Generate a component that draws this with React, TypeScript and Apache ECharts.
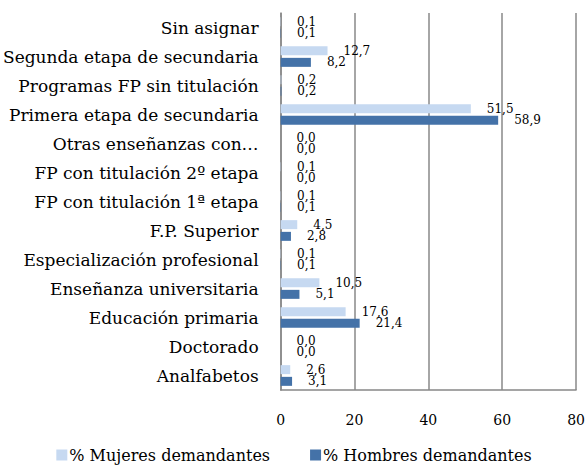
import React, { useEffect, useRef } from "react";
import * as echarts from "echarts";

const categories = [
  "Analfabetos",
  "Doctorado",
  "Educación primaria",
  "Enseñanza universitaria",
  "Especialización profesional",
  "F.P. Superior",
  "FP con titulación 1ª etapa",
  "FP con titulación 2º etapa",
  "Otras enseñanzas con…",
  "Primera etapa de secundaria",
  "Programas FP sin titulación",
  "Segunda etapa de secundaria",
  "Sin asignar",
];
const mujeres = [2.6, 0.0, 17.6, 10.5, 0.1, 4.5, 0.1, 0.1, 0.0, 51.5, 0.2, 12.7, 0.1];
const hombres = [3.1, 0.0, 21.4, 5.1, 0.1, 2.8, 0.1, 0.0, 0.0, 58.9, 0.2, 8.2, 0.1];
const seriesNames = ["% Mujeres demandantes", "% Hombres demandantes"];

const FONT = "DejaVu Serif";

export default function App() {
  const ref = useRef<HTMLDivElement>(null);
  useEffect(() => {
    if (!ref.current) return;
    const chart = echarts.init(ref.current, undefined, { renderer: "svg" });
    const fmt = (p: any) => Number(p.value).toFixed(1).replace(".", ",");
    const lbl = {
      show: true,
      position: "right",
      distance: 16,
      formatter: fmt,
      fontFamily: FONT,
      fontSize: 12,
      color: "#000",
    };
    chart.setOption({
      animation: false,
      textStyle: { fontFamily: FONT },
      grid: { left: 277, right: 10, top: 13, bottom: 80, containLabel: false },
      legend: {
        bottom: 2,
        left: "center",
        itemWidth: 11,
        itemHeight: 11,
        itemGap: 40,
        icon: "rect",
        textStyle: { fontFamily: FONT, fontSize: 16, color: "#000", padding: [0, 0, 0, -3] },
        data: seriesNames,
      },
      xAxis: {
        type: "value",
        min: 0,
        max: 80,
        interval: 20,
        axisLine: { show: true, lineStyle: { color: "#888", width: 1.5 } },
        axisTick: { show: false },
        splitLine: { show: true, lineStyle: { color: "#888", width: 1.5 } },
        axisLabel: { fontFamily: FONT, fontSize: 14, color: "#000", margin: 23 },
      },
      yAxis: {
        type: "category",
        data: categories,
        axisLine: { show: true, lineStyle: { color: "#888", width: 1.5 } },
        axisTick: { show: false },
        axisLabel: { fontFamily: FONT, fontSize: 17, color: "#000", margin: 22 },
      },
      series: [
        {
          name: seriesNames[0],
          type: "bar",
          data: mujeres,
          barWidth: 9,
          barGap: "30%",
          itemStyle: { color: "#C6D9F1" },
          label: lbl,
        },
        {
          name: seriesNames[1],
          type: "bar",
          data: hombres,
          barWidth: 9,
          barGap: "30%",
          itemStyle: { color: "#4472A8" },
          label: lbl,
        },
      ],
    });
    return () => chart.dispose();
  }, []);
  return (
    <div
      ref={ref}
      style={{ position: "fixed", left: 0, top: 0, width: 588, height: 470, background: "#fff" }}
    />
  );
}
